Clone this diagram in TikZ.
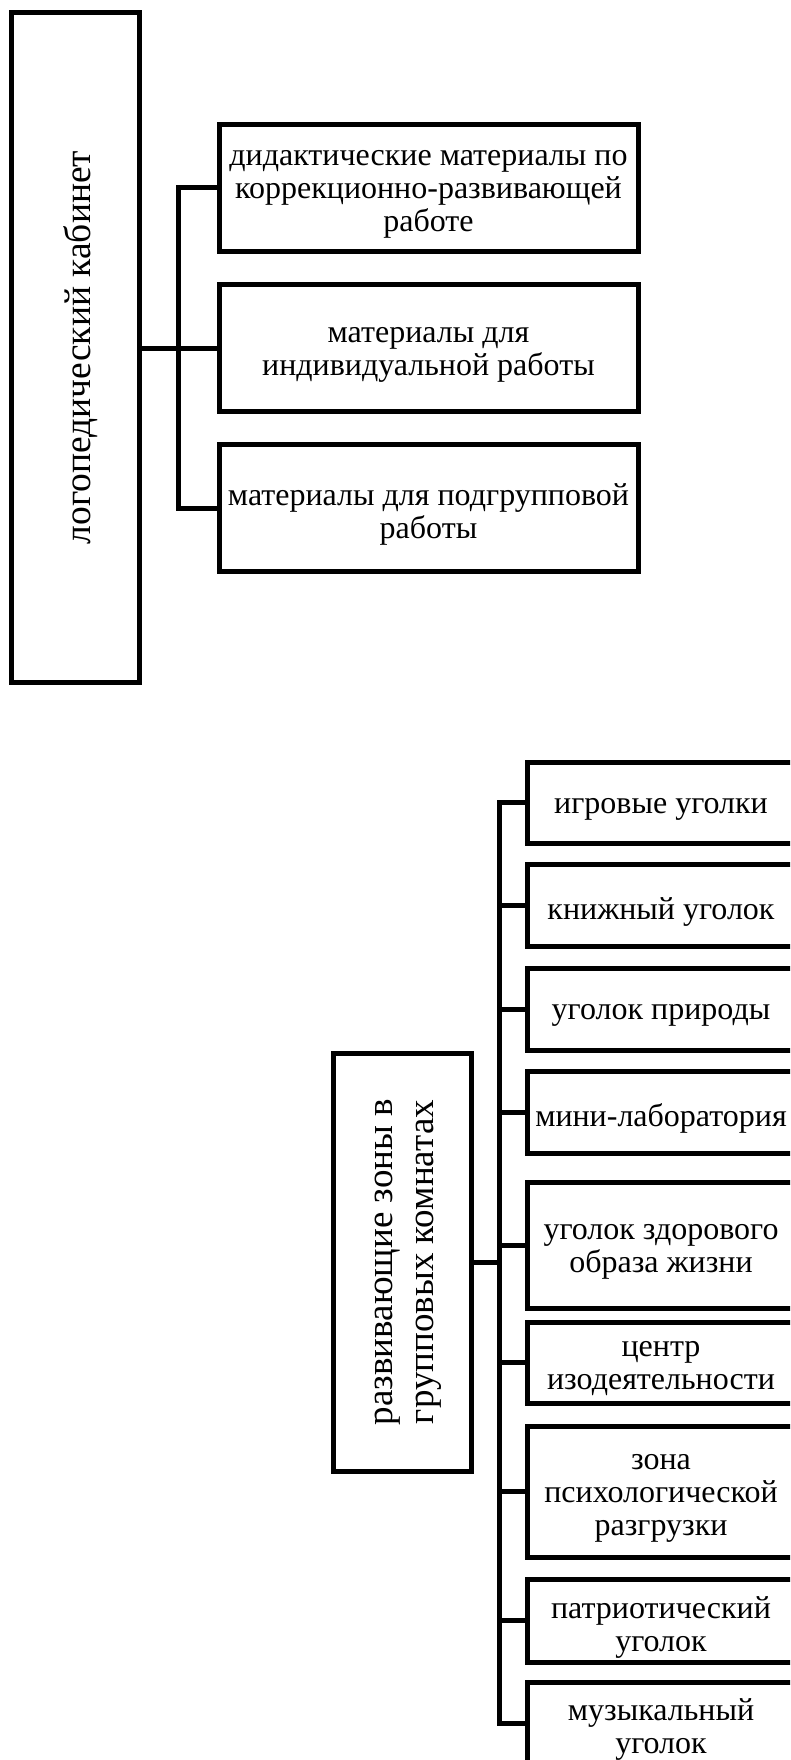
\documentclass[tikz,border=0pt]{standalone}
\usepackage{fontspec}
\setmainfont{Liberation Serif}
\begin{document}
\begin{tikzpicture}[x=1pt,y=-1pt,
  box/.style={draw=black, line width=5pt, inner sep=0pt, outer sep=0pt},
  lbl/.style={inner sep=0pt, align=center, yshift=-6.5pt,
              font=\fontsize{32}{33}\selectfont},
  rtext/.style={xshift=6pt, rotate=90, inner sep=0pt, align=center},
  conn/.style={draw=black, line width=5pt},
  gbox/.style={box, minimum width=419pt, minimum height=127pt},
  zbox/.style={box, minimum width=268pt}
  ]
\useasboundingbox (0,0) rectangle (790,1760);
\clip (0,0) rectangle (790,1760);

% ---------- group 1 ----------
\node[box, minimum width=128pt, minimum height=669pt] (R1) at (75,347.5) {};
\node[rtext, font=\fontsize{37.5}{40}\selectfont] (R1t) at (R1.center) {логопедический кабинет};

\node[gbox] (A1) at (428.5,188) {};
\node[gbox] (A2) at (428.5,348) {};
\node[gbox] (A3) at (428.5,508) {};
\node[lbl] (A1t) at (A1.center) {дидактические материалы по\\коррекционно-развивающей\\работе};
\node[lbl] (A2t) at (A2.center) {материалы для\\индивидуальной работы};
\node[lbl] (A3t) at (A3.center) {материалы для подгрупповой\\работы};

\draw[conn] (R1.east |- A2.west) -- (A2.west);
\draw[conn] (A1.west) -- ++(-41,0) |- (A3.west);

% ---------- group 2 ----------
\node[box, minimum width=138pt, minimum height=418pt] (R2) at (402,1262) {};
\node[rtext, font=\fontsize{37}{41}\selectfont] (R2t) at (R2.center) {развивающие зоны в\\групповых комнатах};

\node[zbox, minimum height=81pt]  (B1) at (661,802.5)  {};
\node[zbox, minimum height=82pt]  (B2) at (661,905)    {};
\node[zbox, minimum height=82pt]  (B3) at (661,1009)   {};
\node[zbox, minimum height=82pt]  (B4) at (661,1112)   {};
\node[zbox, minimum height=126pt] (B5) at (661,1245)   {};
\node[zbox, minimum height=81pt]  (B6) at (661,1362.5) {};
\node[zbox, minimum height=131pt] (B7) at (661,1491.5) {};
\node[zbox, minimum height=83pt]  (B8) at (661,1620.5) {};
\node[zbox, minimum height=82pt]  (B9) at (661,1723)   {};

\node[lbl] (B1t) at (B1.center) {игровые уголки};
\node[lbl] (B2t) at (B2.center) {книжный уголок};
\node[lbl] (B3t) at (B3.center) {уголок природы};
\node[lbl] (B4t) at (B4.center) {мини-лаборатория};
\node[lbl] (B5t) at (B5.center) {уголок здорового\\образа жизни};
\node[lbl] (B6t) at (B6.center) {центр\\изодеятельности};
\node[lbl] (B7t) at (B7.center) {зона\\психологической\\разгрузки};
\node[lbl] (B8t) at (B8.center) {патриотический\\уголок};
\node[lbl] (B9t) at (B9.center) {музыкальный\\уголок};

\coordinate (bus) at (499,1262);
\draw[conn] (R2.east) -- (R2.east -| bus);
\draw[conn] (B1.west) -- (B1.west -| bus) |- (B9.west);
\foreach \n in {B2,B3,B4,B5,B6,B7,B8}
  \draw[conn] (\n.west) -- (\n.west -| bus);
\end{tikzpicture}
\end{document}
